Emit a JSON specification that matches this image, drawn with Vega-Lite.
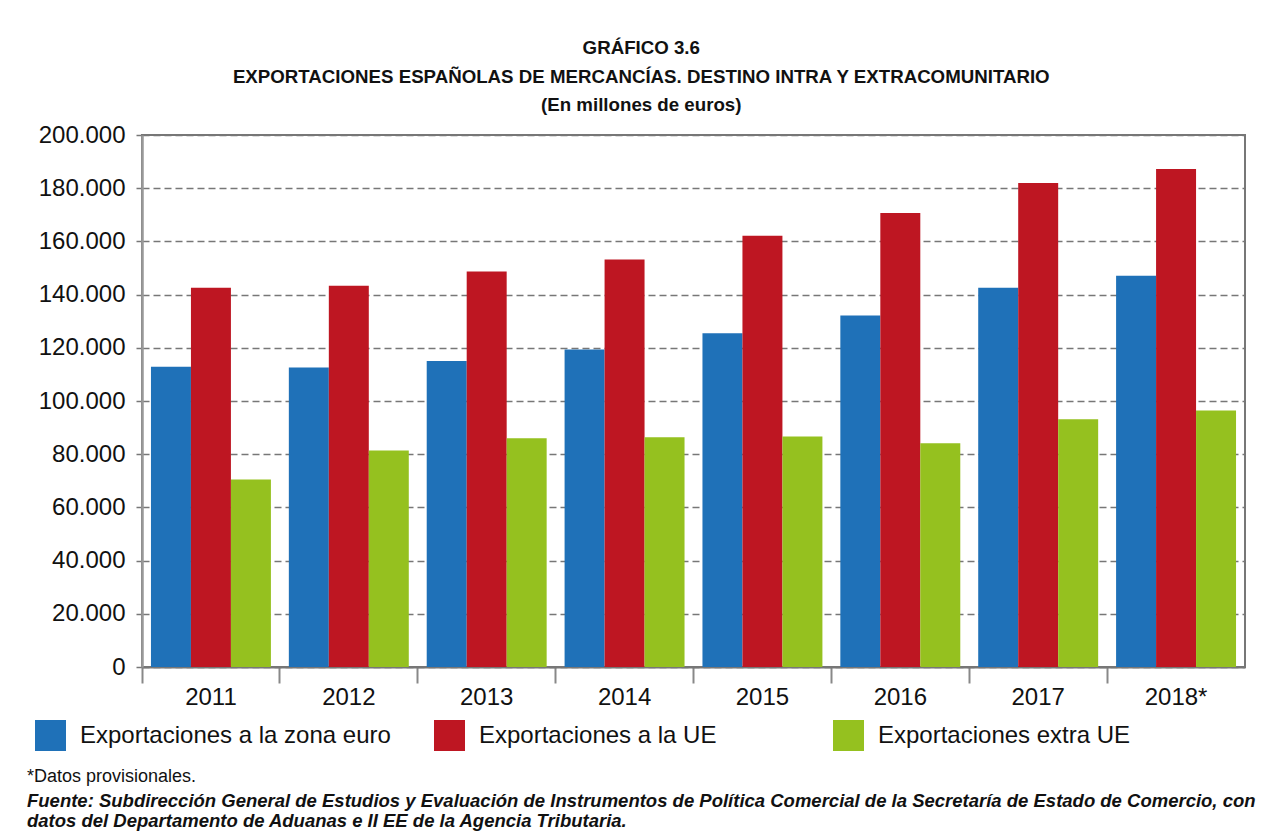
{
  "$schema": "https://vega.github.io/schema/vega-lite/v6.json",
  "padding": {"left": 26, "top": 39, "right": 3, "bottom": 3},
  "background": "white",
  "title": {
    "text": ["GRÁFICO 3.6", "EXPORTACIONES ESPAÑOLAS DE MERCANCÍAS. DESTINO INTRA Y EXTRACOMUNITARIO", "(En millones de euros)"],
    "font": "Liberation Sans",
    "fontSize": 18.7,
    "fontWeight": "bold",
    "lineHeight": 28.5,
    "color": "#111",
    "anchor": "middle",
    "frame": "bounds",
    "offset": 7
  },
  "config": {
    "font": "Liberation Sans",
    "locale": {"number": {"decimal": ",", "thousands": ".", "grouping": [3], "currency": ["", " €"]}},
    "view": {"stroke": "#777", "strokeWidth": 2}
  },
  "resolve": {"legend": {"color": "independent"}},
  "vconcat": [
    {
      "width": 1103,
      "height": 532,
      "title": {
        "text": "*Datos provisionales.",
        "subtitle": ["Fuente: Subdirección General de Estudios y Evaluación de Instrumentos de Política Comercial de la Secretaría de Estado de Comercio, con", "datos del Departamento de Aduanas e II EE de la Agencia Tributaria."],
        "orient": "bottom",
        "anchor": "start",
        "frame": "bounds",
        "dx": -8,
        "font": "Liberation Sans",
        "fontSize": 18,
        "fontWeight": "normal",
        "color": "#111",
        "subtitleFont": "Liberation Sans",
        "subtitleFontSize": 18.5,
        "subtitleFontWeight": "bold",
        "subtitleFontStyle": "italic",
        "subtitleColor": "#111",
        "subtitleLineHeight": 20,
        "subtitlePadding": 6,
        "offset": 17,
        "limit": 0
      },
      "data": {
        "values": [
          {"year": "2011", "serie": "Exportaciones a la zona euro", "value": 112900},
          {"year": "2011", "serie": "Exportaciones a la UE", "value": 142600},
          {"year": "2011", "serie": "Exportaciones extra UE", "value": 70500},
          {"year": "2012", "serie": "Exportaciones a la zona euro", "value": 112600},
          {"year": "2012", "serie": "Exportaciones a la UE", "value": 143300},
          {"year": "2012", "serie": "Exportaciones extra UE", "value": 81400},
          {"year": "2013", "serie": "Exportaciones a la zona euro", "value": 115000},
          {"year": "2013", "serie": "Exportaciones a la UE", "value": 148700},
          {"year": "2013", "serie": "Exportaciones extra UE", "value": 86000},
          {"year": "2014", "serie": "Exportaciones a la zona euro", "value": 119400},
          {"year": "2014", "serie": "Exportaciones a la UE", "value": 153200},
          {"year": "2014", "serie": "Exportaciones extra UE", "value": 86400},
          {"year": "2015", "serie": "Exportaciones a la zona euro", "value": 125500},
          {"year": "2015", "serie": "Exportaciones a la UE", "value": 162100},
          {"year": "2015", "serie": "Exportaciones extra UE", "value": 86700},
          {"year": "2016", "serie": "Exportaciones a la zona euro", "value": 132100},
          {"year": "2016", "serie": "Exportaciones a la UE", "value": 170700},
          {"year": "2016", "serie": "Exportaciones extra UE", "value": 84100},
          {"year": "2017", "serie": "Exportaciones a la zona euro", "value": 142600},
          {"year": "2017", "serie": "Exportaciones a la UE", "value": 182000},
          {"year": "2017", "serie": "Exportaciones extra UE", "value": 93100},
          {"year": "2018*", "serie": "Exportaciones a la zona euro", "value": 147100},
          {"year": "2018*", "serie": "Exportaciones a la UE", "value": 187200},
          {"year": "2018*", "serie": "Exportaciones extra UE", "value": 96400}
        ]
      },
      "mark": {"type": "bar"},
      "encoding": {
        "x": {
          "field": "year",
          "type": "nominal",
          "sort": null,
          "scale": {"paddingInner": 0.13, "paddingOuter": 0.065},
          "axis": {
            "title": null,
            "labelAngle": 0,
            "labelFontSize": 24,
            "labelColor": "#111",
            "labelPadding": 2,
            "tickSize": 16,
            "tickColor": "#888",
            "tickWidth": 2,
            "bandPosition": -0.0747,
            "domainColor": "#777",
            "domainWidth": 2,
            "grid": false
          }
        },
        "xOffset": {
          "field": "serie",
          "type": "nominal",
          "sort": ["Exportaciones a la zona euro", "Exportaciones a la UE", "Exportaciones extra UE"],
          "scale": {"paddingInner": 0, "paddingOuter": 0}
        },
        "y": {
          "field": "value",
          "type": "quantitative",
          "scale": {"domain": [0, 200000], "nice": false},
          "axis": {
            "title": null,
            "values": [0, 20000, 40000, 60000, 80000, 100000, 120000, 140000, 160000, 180000, 200000],
            "format": ",d",
            "labelFontSize": 24,
            "labelColor": "#111",
            "labelPadding": 11,
            "tickSize": 6,
            "tickColor": "#777",
            "tickWidth": 1.5,
            "domainColor": "#999",
            "domainWidth": 2.5,
            "grid": true,
            "gridColor": "#777",
            "gridWidth": 1.5,
            "gridDash": [7, 4]
          }
        },
        "color": {
          "field": "serie",
          "type": "nominal",
          "scale": {
            "domain": ["Exportaciones a la zona euro", "Exportaciones a la UE", "Exportaciones extra UE"],
            "range": ["#1F71B8", "#BE1622", "#95C11F"]
          },
          "legend": {
            "title": null,
            "orient": "none",
            "legendX": -107,
            "legendY": 585,
            "direction": "horizontal",
            "columns": 3,
            "gridAlign": "all",
            "columnPadding": 43,
            "symbolType": "square",
            "symbolSize": 961,
            "symbolStrokeWidth": 0,
            "labelFontSize": 24,
            "labelColor": "#111",
            "labelOffset": 14,
            "labelLimit": 0
          }
        }
      }
    }
  ]
}
